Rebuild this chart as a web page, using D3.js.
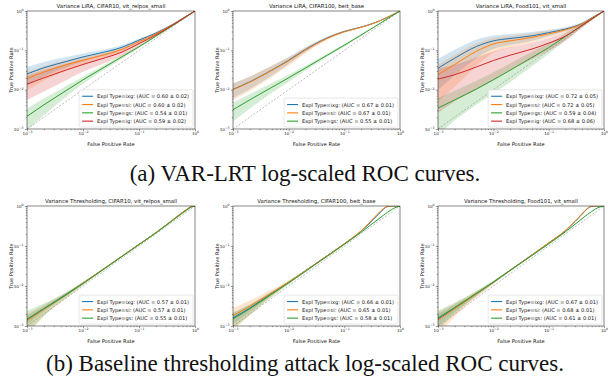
<!DOCTYPE html>
<html>
<head>
<meta charset="utf-8">
<script src="https://cdn.jsdelivr.net/npm/d3@7"></script>
<style>
  body { margin: 0; background: #fff; }
  svg { display: block; }
</style>
</head>
<body>
<svg id="fig" width="608" height="387"></svg>
<script>
// ---------- FPR grids (x values of the averaged ROC curves) ----------
const fprTop = [0.001, 0.002, 0.005, 0.01, 0.02, 0.05, 0.1, 0.2, 0.4, 0.7, 1];
const fprBottom = [0.001, 0.002, 0.005, 0.01, 0.02, 0.05, 0.1, 0.2, 0.3, 0.4, 0.5, 0.6, 0.7, 0.85, 1];

// ---------- Variance LiRA, CIFAR10, vit_relpos_small ----------
const liraC10Ixg    = [0.025, 0.036, 0.052, 0.068, 0.085, 0.12, 0.182, 0.275, 0.457, 0.741, 1];
const liraC10IxgStd = [0.0125, 0.0144, 0.0156, 0.015, 0.0153, 0.0168, 0.018, 0.019, 0.018, 0.015, 0];
const liraC10Si     = [0.019, 0.028, 0.043, 0.056, 0.072, 0.107, 0.166, 0.263, 0.447, 0.733, 1];
const liraC10SiStd  = [0.0095, 0.0112, 0.0129, 0.0123, 0.013, 0.015, 0.0166, 0.0184, 0.0179, 0.0147, 0];
const liraC10Gs     = [0.0021, 0.0041, 0.0095, 0.0178, 0.032, 0.069, 0.123, 0.229, 0.427, 0.716, 1];
const liraC10GsStd  = [0.00116, 0.00185, 0.00285, 0.00356, 0.0045, 0.0069, 0.0086, 0.0115, 0.0128, 0.0107, 0];
const liraC10Ig     = [0.0138, 0.020, 0.0316, 0.0437, 0.059, 0.091, 0.148, 0.245, 0.437, 0.724, 1];
const liraC10IgStd  = [0.0083, 0.011, 0.0142, 0.0153, 0.0165, 0.0182, 0.0207, 0.022, 0.0219, 0.0145, 0];

// ---------- Variance LiRA, CIFAR100, beit_base ----------
const liraC100Ixg    = [0.0102, 0.0158, 0.0316, 0.056, 0.105, 0.209, 0.302, 0.389, 0.537, 0.776, 1];
const liraC100IxgStd = [0.0041, 0.0055, 0.0088, 0.0112, 0.0147, 0.0167, 0.0181, 0.0156, 0.0161, 0.0155, 0];
const liraC100Si     = [0.0100, 0.0155, 0.031, 0.054, 0.101, 0.204, 0.298, 0.385, 0.534, 0.774, 1];
const liraC100SiStd  = [0.0045, 0.0062, 0.0099, 0.013, 0.0162, 0.0184, 0.0179, 0.0154, 0.016, 0.0155, 0];
const liraC100Gs     = [0.0031, 0.0055, 0.0115, 0.020, 0.0355, 0.076, 0.135, 0.245, 0.447, 0.733, 1];
const liraC100GsStd  = [0.00155, 0.0022, 0.0032, 0.004, 0.005, 0.0068, 0.0095, 0.0123, 0.0134, 0.011, 0];

// ---------- Variance LiRA, Food101, vit_small ----------
const liraF101Ixg    = [0.035, 0.063, 0.126, 0.174, 0.20, 0.234, 0.282, 0.347, 0.479, 0.759, 1];
const liraF101IxgStd = [0.025, 0.04, 0.062, 0.066, 0.062, 0.0575, 0.051, 0.042, 0.038, 0.030, 0];
const liraF101Si     = [0.024, 0.0437, 0.0955, 0.145, 0.174, 0.214, 0.263, 0.331, 0.468, 0.75, 1];
const liraF101SiStd  = [0.019, 0.032, 0.055, 0.06, 0.0574, 0.0556, 0.050, 0.043, 0.0374, 0.030, 0];
const liraF101Gs     = [0.0034, 0.0055, 0.0105, 0.0178, 0.031, 0.066, 0.117, 0.224, 0.427, 0.716, 1];
const liraF101GsStd  = [0.0027, 0.00385, 0.0063, 0.0098, 0.0155, 0.0264, 0.0351, 0.0448, 0.0427, 0.0286, 0];
const liraF101Ig     = [0.0186, 0.024, 0.038, 0.055, 0.075, 0.108, 0.152, 0.229, 0.427, 0.724, 1];
const liraF101IgStd  = [0.016, 0.019, 0.028, 0.038, 0.044, 0.049, 0.0545, 0.0573, 0.0512, 0.0362, 0];

// ---------- Variance Thresholding, CIFAR10, vit_relpos_small ----------
const thrC10Ixg    = [0.00145, 0.0027, 0.0062, 0.0118, 0.023, 0.056, 0.11, 0.215, 0.33, 0.45, 0.57, 0.69, 0.8, 0.96, 1];
const thrC10IxgStd = [0.00036, 0.0004, 0.0005, 0.0006, 0.0007, 0.0011, 0.0016, 0.0022, 0.003, 0.004, 0.005, 0.005, 0.005, 0.004, 0];
const thrC10Si     = [0.00135, 0.0026, 0.006, 0.0117, 0.023, 0.056, 0.11, 0.215, 0.33, 0.45, 0.575, 0.70, 0.81, 0.97, 1];
const thrC10SiStd  = [0.00068, 0.00078, 0.0009, 0.00105, 0.00115, 0.0017, 0.0022, 0.003, 0.004, 0.005, 0.006, 0.006, 0.006, 0.004, 0];
const thrC10Gs     = [0.00148, 0.0027, 0.006, 0.0115, 0.0224, 0.055, 0.108, 0.212, 0.322, 0.435, 0.55, 0.665, 0.77, 0.93, 1];
const thrC10GsStd  = [0.0009, 0.00095, 0.00096, 0.001, 0.0011, 0.0017, 0.0022, 0.003, 0.004, 0.005, 0.006, 0.006, 0.006, 0.004, 0];

// ---------- Variance Thresholding, CIFAR100, beit_base ----------
const thrC100Ixg    = [0.0016, 0.0028, 0.0066, 0.0124, 0.024, 0.058, 0.114, 0.235, 0.40, 0.60, 0.82, 0.97, 1, 1, 1];
const thrC100IxgStd = [0.00048, 0.00056, 0.00066, 0.00075, 0.001, 0.0017, 0.0023, 0.004, 0.006, 0.008, 0.008, 0.005, 0, 0, 0];
const thrC100Si     = [0.0018, 0.0031, 0.0068, 0.0125, 0.024, 0.058, 0.114, 0.24, 0.42, 0.64, 0.86, 0.98, 1, 1, 1];
const thrC100SiStd  = [0.001, 0.00124, 0.00136, 0.00125, 0.0012, 0.0017, 0.0023, 0.004, 0.006, 0.008, 0.008, 0.005, 0, 0, 0];
const thrC100Gs     = [0.0015, 0.0027, 0.0063, 0.012, 0.0232, 0.056, 0.11, 0.22, 0.34, 0.46, 0.58, 0.70, 0.81, 0.93, 1];
const thrC100GsStd  = [0.00068, 0.00081, 0.00095, 0.00096, 0.00116, 0.0017, 0.0022, 0.0033, 0.004, 0.005, 0.006, 0.006, 0.006, 0.004, 0];

// ---------- Variance Thresholding, Food101, vit_small ----------
const thrF101Ixg    = [0.0015, 0.0028, 0.0065, 0.0124, 0.0245, 0.06, 0.118, 0.24, 0.41, 0.62, 0.85, 0.98, 1, 1, 1];
const thrF101IxgStd = [0.0005, 0.0006, 0.0007, 0.0008, 0.001, 0.0018, 0.0024, 0.004, 0.006, 0.008, 0.008, 0.004, 0, 0, 0];
const thrF101Si     = [0.0014, 0.0027, 0.0064, 0.0123, 0.0245, 0.06, 0.12, 0.245, 0.42, 0.64, 0.87, 0.99, 1, 1, 1];
const thrF101SiStd  = [0.0008, 0.001, 0.0011, 0.0011, 0.0012, 0.0018, 0.0024, 0.004, 0.006, 0.008, 0.008, 0.003, 0, 0, 0];
const thrF101Gs     = [0.0016, 0.0029, 0.0066, 0.0125, 0.0243, 0.058, 0.113, 0.225, 0.35, 0.48, 0.61, 0.73, 0.84, 0.95, 1];
const thrF101GsStd  = [0.0008, 0.0009, 0.001, 0.001, 0.0012, 0.0018, 0.0023, 0.0034, 0.004, 0.005, 0.006, 0.006, 0.006, 0.004, 0];

// ---------- AUC values shown in the legends: [mean, std] per method ----------
const aucLiraC10  = {ixg: ["0.60", "0.02"], si: ["0.60", "0.02"], gs: ["0.54", "0.01"], ig: ["0.59", "0.02"]};
const aucLiraC100 = {ixg: ["0.67", "0.01"], si: ["0.67", "0.01"], gs: ["0.55", "0.01"]};
const aucLiraF101 = {ixg: ["0.72", "0.05"], si: ["0.72", "0.05"], gs: ["0.59", "0.04"], ig: ["0.68", "0.06"]};
const aucThrC10   = {ixg: ["0.57", "0.01"], si: ["0.57", "0.01"], gs: ["0.55", "0.01"]};
const aucThrC100  = {ixg: ["0.66", "0.01"], si: ["0.65", "0.01"], gs: ["0.58", "0.01"]};
const aucThrF101  = {ixg: ["0.67", "0.01"], si: ["0.68", "0.01"], gs: ["0.61", "0.01"]};

// ---------- titles, captions, ticks ----------
const panelTitles = [
  "Variance LiRA, CIFAR10, vit_relpos_small",
  "Variance LiRA, CIFAR100, beit_base",
  "Variance LiRA, Food101, vit_small",
  "Variance Thresholding, CIFAR10, vit_relpos_small",
  "Variance Thresholding, CIFAR100, beit_base",
  "Variance Thresholding, Food101, vit_small"
];
const captions = [
  "(a) VAR-LRT log-scaled ROC curves.",
  "(b) Baseline thresholding attack log-scaled ROC curves."
];
const majorTicks = [0.001, 0.01, 0.1, 1];
const tickExponents = ["\u22123", "\u22122", "\u22121", "0"];

// ---------- assemble panels ----------
const panels = [
  {fpr: fprTop, auc: aucLiraC10, series: [
    ["ixg", liraC10Ixg, liraC10IxgStd], ["si", liraC10Si, liraC10SiStd],
    ["gs", liraC10Gs, liraC10GsStd], ["ig", liraC10Ig, liraC10IgStd]]},
  {fpr: fprTop, auc: aucLiraC100, series: [
    ["ixg", liraC100Ixg, liraC100IxgStd], ["si", liraC100Si, liraC100SiStd],
    ["gs", liraC100Gs, liraC100GsStd]]},
  {fpr: fprTop, auc: aucLiraF101, series: [
    ["ixg", liraF101Ixg, liraF101IxgStd], ["si", liraF101Si, liraF101SiStd],
    ["gs", liraF101Gs, liraF101GsStd], ["ig", liraF101Ig, liraF101IgStd]]},
  {fpr: fprBottom, auc: aucThrC10, series: [
    ["ixg", thrC10Ixg, thrC10IxgStd], ["si", thrC10Si, thrC10SiStd],
    ["gs", thrC10Gs, thrC10GsStd]]},
  {fpr: fprBottom, auc: aucThrC100, series: [
    ["ixg", thrC100Ixg, thrC100IxgStd], ["si", thrC100Si, thrC100SiStd],
    ["gs", thrC100Gs, thrC100GsStd]]},
  {fpr: fprBottom, auc: aucThrF101, series: [
    ["ixg", thrF101Ixg, thrF101IxgStd], ["si", thrF101Si, thrF101SiStd],
    ["gs", thrF101Gs, thrF101GsStd]]}
];

// ---------- layout & style ----------
const colors = {ixg: "#1f77b4", si: "#ff7f0e", gs: "#2ca02c", ig: "#d62728"};
const colLeft = [27, 233, 438], colRight = [195, 400, 604];
const rowTop = [11, 206], rowBottom = [129, 326];
const FONT = "'DejaVu Sans', sans-serif";
const FS = 5.1;

const svg = d3.select("#fig");
const minorTicks = [];
[0.001, 0.01, 0.1].forEach(d => { for (let k = 2; k <= 9; k++) minorTicks.push(d * k); });

function expLabel(sel, idx) {
  sel.text(null);
  sel.append("tspan").text("10");
  sel.append("tspan").attr("dy", -1.8).attr("font-size", FS * 0.62).text(tickExponents[idx]);
}

panels.forEach((p, i) => {
  const row = Math.floor(i / 3), col = i % 3;
  const L = colLeft[col], R = colRight[col], T = rowTop[row], B = rowBottom[row];
  const x = d3.scaleLog().domain([1e-3, 1]).range([L, R]);
  const y = d3.scaleLog().domain([1e-3, 1]).range([B, T]);
  const g = svg.append("g");

  const clipId = "clip" + i;
  g.append("clipPath").attr("id", clipId)
    .append("rect").attr("x", L).attr("y", T).attr("width", R - L).attr("height", B - T);
  const plot = g.append("g").attr("clip-path", `url(#${clipId})`);

  const floor = 1e-5;
  const area = d3.area()
    .x(d => x(d.f))
    .y0(d => y(Math.max(d.lo, floor)))
    .y1(d => y(Math.max(d.hi, floor)))
    .curve(d3.curveMonotoneX);
  const line = d3.line().x(d => x(d.f)).y(d => y(d.m)).curve(d3.curveMonotoneX);

  // shaded spread (mean ± std) for each explanation type
  p.series.forEach(([key, mean, sd]) => {
    const pts = p.fpr.map((f, j) => ({f, m: mean[j], lo: mean[j] - sd[j], hi: mean[j] + sd[j]}));
    plot.append("path").datum(pts).attr("d", area)
      .attr("fill", colors[key]).attr("fill-opacity", 0.2).attr("stroke", "none");
  });

  // chance diagonal
  plot.append("line")
    .attr("x1", x(1e-3)).attr("y1", y(1e-3)).attr("x2", x(1)).attr("y2", y(1))
    .attr("stroke", "#7a7a7a").attr("stroke-width", 0.5).attr("stroke-dasharray", "2,1.6");

  // mean ROC curves
  p.series.forEach(([key, mean]) => {
    const pts = p.fpr.map((f, j) => ({f, m: mean[j]}));
    plot.append("path").datum(pts).attr("d", line)
      .attr("fill", "none").attr("stroke", colors[key]).attr("stroke-width", 1.0);
  });

  // axes
  const xAxis = g.append("g").attr("transform", `translate(0,${B})`)
    .call(d3.axisBottom(x).tickValues(majorTicks).tickSize(2.2).tickPadding(1.2));
  xAxis.selectAll(".tick text").each(function(d, k) { expLabel(d3.select(this), k); });
  g.append("g").attr("transform", `translate(0,${B})`)
    .call(d3.axisBottom(x).tickValues(minorTicks).tickSize(1.2).tickFormat(""));
  const yAxis = g.append("g").attr("transform", `translate(${L},0)`)
    .call(d3.axisLeft(y).tickValues(majorTicks).tickSize(2.2).tickPadding(1.2));
  yAxis.selectAll(".tick text").each(function(d, k) { expLabel(d3.select(this), k); });
  g.append("g").attr("transform", `translate(${L},0)`)
    .call(d3.axisLeft(y).tickValues(minorTicks).tickSize(1.2).tickFormat(""));

  g.selectAll(".domain").remove();
  g.selectAll(".tick line").attr("stroke", "#222").attr("stroke-width", 0.45);
  g.selectAll(".tick text").attr("font-family", FONT).attr("font-size", FS * 0.8).attr("fill", "#222");

  // frame
  g.append("rect").attr("x", L).attr("y", T).attr("width", R - L).attr("height", B - T)
    .attr("fill", "none").attr("stroke", "#222").attr("stroke-width", 0.55);

  // titles and axis labels
  g.append("text").attr("x", (L + R) / 2).attr("y", T - 3)
    .attr("text-anchor", "middle").attr("font-family", FONT).attr("font-size", FS + 0.3)
    .attr("fill", "#111").text(panelTitles[i]);
  g.append("text").attr("x", (L + R) / 2).attr("y", B + 17)
    .attr("text-anchor", "middle").attr("font-family", FONT).attr("font-size", FS)
    .attr("fill", "#111").text("False Positive Rate");
  g.append("text")
    .attr("transform", `translate(${L - 14},${(T + B) / 2}) rotate(-90)`)
    .attr("text-anchor", "middle").attr("font-family", FONT).attr("font-size", FS)
    .attr("fill", "#111").text("True Positive Rate");

  // legend, anchored in the lower-right corner
  const rowH = 8.3;
  const n = p.series.length;
  const leg = g.append("g");
  const box = leg.append("rect");
  const texts = [];
  p.series.forEach(([key], k) => {
    const a = p.auc[key];
    texts.push(leg.append("text").attr("font-family", FONT).attr("font-size", FS)
      .attr("fill", "#111").attr("dominant-baseline", "central")
      .text(`Expl Type=${key}: (AUC = ${a[0]} \u00b1 ${a[1]})`));
  });
  const tw = d3.max(texts, t => t.node().getComputedTextLength());
  const bw = tw + 22, bh = n * rowH + 4;
  const bx = R - 2 - bw, by = B - 2 - bh;
  box.attr("x", bx).attr("y", by).attr("width", bw).attr("height", bh).attr("rx", 1.2)
    .attr("fill", "#fff").attr("fill-opacity", 0.85).attr("stroke", "#cfcfcf").attr("stroke-width", 0.5);
  p.series.forEach(([key], k) => {
    const cy = by + 2 + rowH * (k + 0.5) + 0.3;
    leg.append("line").attr("x1", bx + 3).attr("x2", bx + 14).attr("y1", cy).attr("y2", cy)
      .attr("stroke", colors[key]).attr("stroke-width", 1.1);
    texts[k].attr("x", bx + 18).attr("y", cy);
  });
});

// sub-figure captions
const capY = [181, 371];
captions.forEach((c, k) => {
  svg.append("text").attr("x", 305).attr("y", capY[k]).attr("text-anchor", "middle")
    .attr("font-family", "'Liberation Serif', 'Times New Roman', serif").attr("font-size", 23)
    .attr("fill", "#111").text(c);
});
</script>
</body>
</html>
